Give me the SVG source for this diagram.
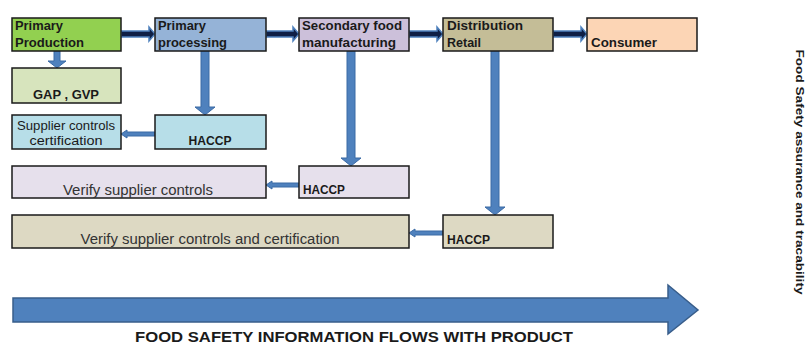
<svg xmlns="http://www.w3.org/2000/svg" width="808" height="345" viewBox="0 0 808 345">
<style>
.box{stroke:#1a1a1a;stroke-width:1.5}
.t{font-family:"Liberation Sans",Arial,sans-serif;font-size:12.5px;fill:#1a1a1a}
.b{font-weight:bold}
.r{font-size:14px;fill:#333}
.top{fill:#0f1f45;stroke:#4F81BD;stroke-width:1.5}
.dn{fill:#4F81BD;stroke:#3a6aa5;stroke-width:1}
</style>
<rect width="808" height="345" fill="#ffffff"/>
<g id="connectors">
<path class="top" d="M121,31H149V27L155,34L149,41V37H121Z"/>
<path class="top" d="M266,31H293V27L299,34L293,41V37H266Z"/>
<path class="top" d="M409,31H437V27L443,34L437,41V37H409Z"/>
<path class="top" d="M553,31H581V27L587,34L581,41V37H553Z"/>
<path class="dn" d="M54,51H60V61H66L57,68L48,61H54Z"/>
<path class="dn" d="M201,51H209V107H215L205,115L195,107H201Z"/>
<path class="dn" d="M347,51H355V158H361L351,166L341,158H347Z"/>
<path class="dn" d="M491,51H499V207H505L495,215L485,207H491Z"/>
<path class="dn" d="M155,132V136H127V138L121,134L127,130V132Z"/>
<path class="dn" d="M299,183V187H272V189L266,185L272,181V183Z"/>
<path class="dn" d="M443,231V235H415V237L409,233L415,229V231Z"/>
</g>
<g id="primary-production"><rect class="box" x="12" y="18" width="109" height="33" fill="#92D050"/><text class="t b" x="15" y="30" textLength="48" lengthAdjust="spacingAndGlyphs">Primary</text><text class="t b" x="15" y="47" textLength="69" lengthAdjust="spacingAndGlyphs">Production</text></g>
<g id="primary-processing"><rect class="box" x="155" y="18" width="111" height="33" fill="#95B3D7"/><text class="t b" x="158" y="30" textLength="48" lengthAdjust="spacingAndGlyphs">Primary</text><text class="t b" x="158" y="47" textLength="69" lengthAdjust="spacingAndGlyphs">processing</text></g>
<g id="secondary-food"><rect class="box" x="299" y="18" width="110" height="33" fill="#CCC0DA"/><text class="t b" x="302" y="30" textLength="100" lengthAdjust="spacingAndGlyphs">Secondary food</text><text class="t b" x="302" y="47" textLength="94" lengthAdjust="spacingAndGlyphs">manufacturing</text></g>
<g id="distribution"><rect class="box" x="443" y="18" width="110" height="33" fill="#C4BD97"/><text class="t b" x="447" y="30" textLength="76" lengthAdjust="spacingAndGlyphs">Distribution</text><text class="t b" x="447" y="47">Retail</text></g>
<g id="consumer"><rect class="box" x="587" y="18" width="110" height="33" fill="#FCD5B5"/><text class="t b" x="591" y="47" textLength="66" lengthAdjust="spacingAndGlyphs">Consumer</text></g>
<g id="gap-gvp"><rect class="box" x="12" y="68" width="109" height="35" fill="#D7E4BD"/><text class="t b" x="66" y="99" text-anchor="middle" textLength="66" lengthAdjust="spacingAndGlyphs">GAP , GVP</text></g>
<g id="supplier-cert"><rect class="box" x="12" y="115" width="109" height="34" fill="#B7DEE8"/><text class="t" x="66" y="130" text-anchor="middle" fill="#333" textLength="98" lengthAdjust="spacingAndGlyphs">Supplier controls</text><text class="t" x="66" y="145" text-anchor="middle" fill="#333" textLength="73" lengthAdjust="spacingAndGlyphs">certification</text></g>
<g id="haccp1"><rect class="box" x="155" y="115" width="111" height="34" fill="#B7DEE8"/><text class="t b" x="210" y="145" text-anchor="middle" textLength="43" lengthAdjust="spacingAndGlyphs">HACCP</text></g>
<g id="verify1"><rect class="box" x="12" y="166" width="254" height="32" fill="#E6E0EC"/><text class="t r" x="138" y="195" text-anchor="middle" textLength="150" lengthAdjust="spacingAndGlyphs">Verify supplier controls</text></g>
<g id="haccp2"><rect class="box" x="299" y="166" width="110" height="32" fill="#E6E0EC"/><text class="t b" x="303" y="194" textLength="42" lengthAdjust="spacingAndGlyphs">HACCP</text></g>
<g id="verify2"><rect class="box" x="12" y="215" width="397" height="33" fill="#DDD9C3"/><text class="t r" x="210" y="244" text-anchor="middle" textLength="259" lengthAdjust="spacingAndGlyphs">Verify supplier controls and certification</text></g>
<g id="haccp3"><rect class="box" x="443" y="215" width="110" height="33" fill="#DDD9C3"/><text class="t b" x="447" y="244" textLength="43" lengthAdjust="spacingAndGlyphs">HACCP</text></g>
<g id="flow-arrow"><path d="M13,298H668V285L698,310L668,334V322H13Z" fill="#4F81BD" stroke="#385D8A" stroke-width="1.5"/><text class="t b" x="354" y="342" text-anchor="middle" style="font-size:15px" textLength="438" lengthAdjust="spacingAndGlyphs">FOOD SAFETY INFORMATION FLOWS WITH PRODUCT</text></g>
<g id="side-label"><text class="t b" transform="translate(796,172) rotate(90)" text-anchor="middle" style="font-size:11.5px" textLength="245" lengthAdjust="spacingAndGlyphs">Food Safety assurance and tracability</text></g>
</svg>
